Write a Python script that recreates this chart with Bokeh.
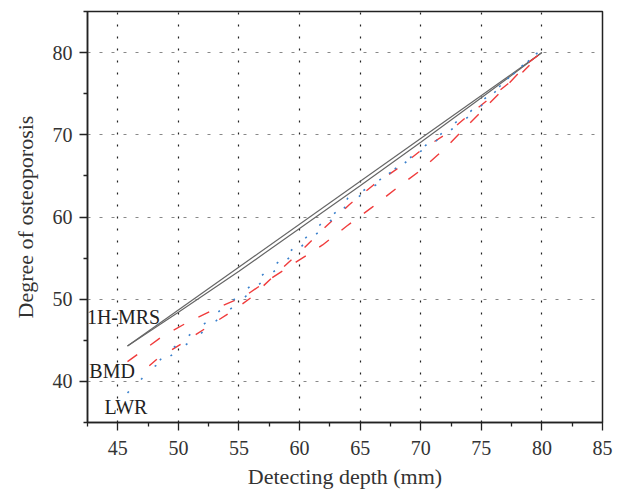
from bokeh.plotting import figure
from bokeh.models import Range1d, FixedTicker, ColumnDataSource
from bokeh.core.properties import value
from bokeh.embed import file_html
from bokeh.resources import INLINE

# ---- data ----
depth_ticks = [45, 50, 55, 60, 65, 70, 75, 80, 85]
depth_minor = [42.5, 47.5, 52.5, 57.5, 62.5, 67.5, 72.5, 77.5, 82.5]
degree_ticks = [40, 50, 60, 70, 80]
degree_minor = [35, 45, 55, 65, 75, 85]

# 1H-MRS (grey solid, two nearly coincident lines)
mrs_a_x = [45.8, 80.0]
mrs_a_y = [44.3, 80.0]
mrs_b_x = [45.8, 50.0, 55.0, 60.0, 65.0, 70.0, 75.0, 80.0]
mrs_b_y = [44.3, 48.4, 53.4, 58.6, 63.8, 69.1, 74.5, 80.0]

# BMD (red dashed, two lines)
bmd_a_x = [45.8, 48.7, 50.9, 53.3, 55.5, 57.2, 59.7, 61.9, 63.9, 66.0, 68.0, 70.0, 71.9, 73.3, 77.0, 78.9, 80.0]
bmd_a_y = [42.4, 45.5, 47.3, 49.0, 50.4, 52.1, 54.5, 56.6, 58.9, 61.2, 63.5, 65.7, 68.2, 70.3, 75.8, 78.8, 80.0]
bmd_b_x = [47.6, 48.3, 50.4, 52.6, 54.7, 56.0, 58.0, 60.0, 62.0, 64.1, 66.1, 68.3, 70.1, 72.2, 73.8, 76.0, 78.4, 80.0]
bmd_b_y = [41.9, 42.8, 44.7, 46.8, 48.8, 50.2, 53.0, 55.7, 58.6, 61.5, 63.9, 66.1, 68.2, 70.2, 72.2, 74.8, 77.6, 80.0]

# LWR (blue dotted, two lines)
lwr_a_x = [45.8, 46.9, 47.9, 48.8, 50.0, 51.3, 52.6, 53.6, 54.8, 56.0, 57.1, 58.3, 59.4, 60.5, 61.7, 62.8, 63.9,
           65.0, 66.3, 67.4, 68.7, 69.9, 71.2, 72.4, 73.6, 74.9, 76.0, 77.0, 78.1, 79.2, 79.7]
lwr_a_y = [38.6, 40.2, 41.7, 42.5, 43.8, 45.2, 46.7, 48.0, 49.4, 50.9, 52.4, 53.9, 55.4, 56.9, 58.3, 59.9, 61.4,
           62.6, 63.9, 65.3, 66.6, 67.9, 69.2, 70.5, 71.8, 73.4, 75.0, 76.6, 78.0, 79.6, 80.0]
lwr_b_x = [47.9, 49.0, 50.2, 51.4, 52.6, 53.7, 55.0, 56.1, 57.2, 58.4, 59.5, 60.7, 61.8, 63.0, 64.0,
           65.5, 66.7, 68.0, 69.2, 70.3, 71.6, 72.7, 74.0, 75.1, 76.3, 77.4, 78.5, 79.6]
lwr_b_y = [41.7, 43.4, 44.8, 46.2, 47.5, 49.0, 50.4, 51.8, 53.3, 54.7, 56.2, 57.7, 59.2, 60.6, 62.3,
           63.4, 64.6, 66.0, 67.3, 68.6, 70.0, 71.3, 72.7, 74.2, 75.6, 77.1, 78.4, 80.0]

series_names = ["1H-MRS", "BMD", "LWR"]
name_x = [42.45, 42.65, 43.9]
name_y = [47.85, 41.3, 36.9]

FONT = "Liberation Serif"

p = figure(width=616, height=491, output_backend="svg", toolbar_location=None,
           x_range=Range1d(42.5, 85), y_range=Range1d(35, 85),
           min_border_left=87, min_border_right=14, min_border_top=11, min_border_bottom=68)
p.background_fill_color = "white"
p.border_fill_color = "white"
p.outline_line_color = "#222222"
p.outline_line_width = 1.5

for ax, ticks, minor in ((p.xaxis[0], depth_ticks, depth_minor), (p.yaxis[0], degree_ticks, degree_minor)):
    ax.ticker = FixedTicker(ticks=ticks, minor_ticks=minor)
    ax.axis_line_color = "#222222"
    ax.axis_line_width = 1.5
    ax.major_tick_line_color = "#222222"
    ax.major_tick_line_width = 1.3
    ax.minor_tick_line_color = "#222222"
    ax.minor_tick_line_width = 1.3
    ax.major_tick_out = 8
    ax.major_tick_in = 0
    ax.minor_tick_out = 4
    ax.minor_tick_in = 0
    ax.major_label_text_font = FONT
    ax.major_label_text_font_size = "20px"
    ax.major_label_text_color = "#333333"
    ax.axis_label_text_font = FONT
    ax.axis_label_text_font_size = "22px"
    ax.axis_label_text_font_style = "normal"
    ax.axis_label_text_color = "#333333"

p.xaxis.axis_label = "Detecting depth (mm)"
p.yaxis.axis_label = "Degree of osteoporosis"
p.xaxis.major_label_standoff = 10
p.yaxis.major_label_standoff = 7
p.xaxis.axis_label_standoff = 6
p.yaxis.axis_label_standoff = 12

p.xgrid.grid_line_color = "#222222"
p.xgrid.grid_line_dash = "2 10"
p.xgrid.grid_line_width = 1.2
p.ygrid.grid_line_color = "#888888"
p.ygrid.grid_line_dash = "3 9"
p.ygrid.grid_line_width = 1.2

# 1H-MRS
p.line(mrs_a_x, mrs_a_y, line_color="#666666", line_width=1.2)
p.line(mrs_b_x, mrs_b_y, line_color="#666666", line_width=1.2)
# BMD
p.line(bmd_a_x, bmd_a_y, line_color="#f03c3c", line_width=1.4, line_dash="12 16")
p.line(bmd_b_x, bmd_b_y, line_color="#f03c3c", line_width=1.4, line_dash="10 18")
# LWR
p.line(lwr_a_x, lwr_a_y, line_color="#3a80cc", line_width=1.6, line_dash="2 17")
p.line(lwr_b_x, lwr_b_y, line_color="#3a80cc", line_width=1.6, line_dash="2 17", line_dash_offset=9)

src = ColumnDataSource(dict(x=name_x, y=name_y, t=series_names))
p.text(x="x", y="y", text="t", source=src, text_font=value(FONT), text_font_size="20px",
       text_align="left", text_baseline="alphabetic", text_color="#222222")

open("out.html", "w").write(file_html(p, INLINE))
